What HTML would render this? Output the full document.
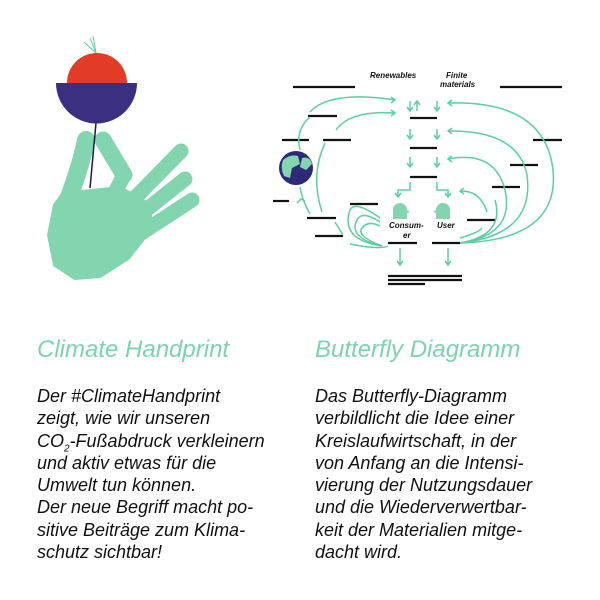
<!DOCTYPE html>
<html><head><meta charset="utf-8"><style>
body{margin:0;background:#fff;width:600px;height:600px;overflow:hidden;position:relative;font-family:"Liberation Sans",sans-serif;font-style:italic}
.t{position:absolute;color:#7dd3ae;font-size:24px;top:336px}
.b{position:absolute;top:385px;font-size:18px;line-height:22.3px;color:#111;white-space:nowrap}
svg{position:absolute;left:0;top:0}
</style></head><body>
<svg width="600" height="320" viewBox="0 0 600 320">
<!-- hand -->
<g fill="#82d5ae" stroke="#82d5ae" stroke-linecap="round" stroke-linejoin="round">
<path d="M66 190 L82 192 L120 188 L150 205 L150 230 L128 258 L100 276 L75 278 L55 265 L49 235 L55 205 Z" stroke-width="4"/>
<path d="M86 140 Q80 170 64 210" stroke-width="18"/>
<line x1="103" y1="140" x2="124" y2="175" stroke-width="17"/>
<line x1="124" y1="175" x2="112" y2="198" stroke-width="15"/>
<line x1="128" y1="205" x2="181" y2="151" stroke-width="15"/>
<line x1="136" y1="218" x2="185" y2="179" stroke-width="15"/>
<line x1="140" y1="234" x2="192" y2="200" stroke-width="15"/>
</g>
<line x1="96" y1="123" x2="90" y2="188" stroke="#1a1a4a" stroke-width="1.5"/>
<path d="M67 83 A30 30 0 0 1 127 83 Z" fill="#e23b26"/>
<path d="M56 83 L137 83 A40.5 40.5 0 0 1 56 83 Z" fill="#3a2f80"/>
<g stroke="#5ccfa0" stroke-width="1"><line x1="96" y1="53" x2="84" y2="42"/><line x1="96" y1="53" x2="90" y2="38"/><line x1="96" y1="53" x2="93" y2="36"/></g>
<!-- butterfly -->
<g stroke="#111" stroke-width="2.2">
<line x1="293" y1="87" x2="355" y2="87"/><line x1="500" y1="87" x2="562" y2="87"/>
<line x1="308" y1="116" x2="337" y2="116"/><line x1="410" y1="118" x2="437" y2="118"/>
<line x1="282" y1="140" x2="309" y2="140"/><line x1="323" y1="140" x2="351" y2="140"/>
<line x1="533" y1="140" x2="562" y2="140"/><line x1="410" y1="148" x2="437" y2="148"/>
<line x1="510" y1="165" x2="538" y2="165"/><line x1="410" y1="177" x2="437" y2="177"/>
<line x1="492" y1="187" x2="520" y2="187"/><line x1="273" y1="201" x2="289" y2="201"/>
<line x1="350" y1="204" x2="378" y2="204"/><line x1="307" y1="218" x2="336" y2="218"/>
<line x1="467" y1="220" x2="495" y2="220"/><line x1="315" y1="236" x2="343" y2="236"/>
<line x1="388" y1="243" x2="417" y2="243"/><line x1="432" y1="243" x2="460" y2="243"/>
<line x1="388" y1="276" x2="462" y2="276"/><line x1="388" y1="280" x2="462" y2="280"/>
<line x1="388" y1="284" x2="425" y2="284"/>
</g>
<g stroke="#5ccfa0" stroke-width="1.5" fill="none">
<path d="M410 101 v10 M407 107 l3 4 l3-4"/><path d="M417 111 v-10 M414 105 l3-4 l3 4"/>
<path d="M437 101 v10 M434 107 l3 4 l3-4"/>
<path d="M410 129 v10 M407 135 l3 4 l3-4"/><path d="M437 129 v10 M434 135 l3 4 l3-4"/>
<path d="M410 157 v10 M407 163 l3 4 l3-4"/><path d="M437 157 v10 M434 163 l3 4 l3-4"/>
<path d="M410 182 v8 h-12 v7 M395 193 l3 4 l3-4"/>
<path d="M437 182 v8 h11 v7 M445 193 l3 4 l3-4"/>
<path d="M400 248 v17 M397 261 l3 4 l3-4"/><path d="M448 248 v17 M445 261 l3 4 l3-4"/>
<path d="M310 112 Q330 90 395 100 M391 97 l4 3 l-4 3"/>
<path d="M336 130 Q350 110 395 113 M391 110 l4 3 l-4 3"/>
<path d="M300 150 Q295 130 310 117"/>
<path d="M325 143 Q310 175 322 212"/>
<path d="M300 187 Q302 200 310 214 M297 203 l4-4 l4 2"/>
<path d="M335 222 Q340 230 343 235"/>
<path d="M382 246 Q340 240 350 210 Q355 200 380 218"/>
<path d="M382 246 Q348 238 357 220 Q362 210 380 222"/>
<path d="M382 246 Q356 236 362 228 Q368 220 380 226"/>
<path d="M350 244 Q380 250 388 246"/>
<path d="M460 243 Q560 240 553 170 Q545 100 448 103 M452 100 l-4 3 l4 3"/>
<path d="M460 243 Q535 235 527 175 Q518 130 448 131 M452 128 l-4 3 l4 3"/>
<path d="M460 243 Q515 235 505 190 Q495 150 448 159 M452 156 l-4 3 l4 3"/>
<path d="M460 243 Q505 235 495 200 M460 238 Q480 232 482 228"/>
<path d="M487 212 Q480 190 460 191 M464 188 l-4 3 l4 3"/>
</g>
<circle cx="296" cy="168" r="17" fill="#2e2a78"/>
<path d="M283 160 Q290 154 298 156 L300 164 L292 168 L290 178 L284 176 Q280 168 283 160Z M302 158 Q310 156 312 164 L306 170 L300 167Z" fill="#82d5ae"/>
<g fill="#82d5ae"><path d="M393 219 v-9 a7 7 0 0 1 14 0 l3 2 l-3 1 v6z"/><path d="M450 219 v-9 a7 7 0 0 0 -14 0 l-3 2 l3 1 v6z"/></g>
<g font-family="Liberation Sans,sans-serif" font-style="italic" font-weight="bold" font-size="8" fill="#111">
<text x="370" y="78">Renewables</text><text x="446" y="78">Finite</text><text x="440" y="87">materials</text>
<text x="389" y="228">Consum-</text><text x="403" y="238">er</text><text x="437" y="228">User</text>
</g>
</svg>
<div class="t" style="left:37px">Climate Handprint</div>
<div class="t" style="left:315px">Butterfly Diagramm</div>
<div class="b" style="left:37px">Der #ClimateHandprint<br>zeigt, wie wir unseren<br>CO<sub style="font-size:10px;line-height:0">2</sub>-Fußabdruck verkleinern<br>und aktiv etwas für die<br>Umwelt tun können.<br>Der neue Begriff macht po-<br>sitive Beiträge zum Klima-<br>schutz sichtbar!</div>
<div class="b" style="left:315px">Das Butterfly-Diagramm<br>verbildlicht die Idee einer<br>Kreislaufwirtschaft, in der<br>von Anfang an die Intensi-<br>vierung der Nutzungsdauer<br>und die Wiederverwertbar-<br>keit der Materialien mitge-<br>dacht wird.</div>
</body></html>
